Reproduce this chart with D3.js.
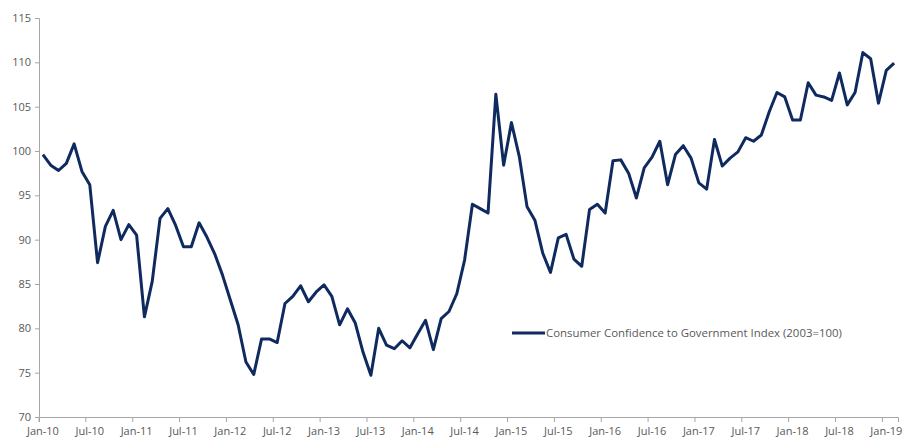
<!DOCTYPE html>
<html>
<head>
<meta charset="utf-8">
<script src="https://cdnjs.cloudflare.com/ajax/libs/d3/7.8.5/d3.min.js"></script>
<style>
  body { margin: 0; background: #fff; }
  text { font-family: "Open Sans", "Noto Sans", sans-serif; }
</style>
</head>
<body>
<div id="chart"></div>
<script>
// monthly series, Jan-10 .. Feb-19
var months = d3.timeMonths(new Date(2010, 0, 1), new Date(2019, 2, 1));
var values = [
  99.6, 98.4, 97.8, 98.6, 100.8, 97.7, 96.2, 87.4, 91.5, 93.3, 90.0, 91.7,
  90.5, 81.3, 85.3, 92.4, 93.5, 91.6, 89.2, 89.2, 91.9, 90.3, 88.4, 86.0,
  83.2, 80.4, 76.2, 74.8, 78.8, 78.8, 78.4, 82.8, 83.6, 84.8, 83.0, 84.1,
  84.9, 83.6, 80.4, 82.2, 80.6, 77.3, 74.7, 80.0, 78.1, 77.7, 78.6, 77.8,
  79.4, 80.9, 77.6, 81.1, 81.9, 83.9, 87.7, 94.0, 93.5, 93.0, 106.4, 98.4,
  103.2, 99.4, 93.7, 92.2, 88.5, 86.3, 90.2, 90.6, 87.8, 87.0, 93.4, 94.0,
  93.0, 98.9, 99.0, 97.5, 94.7, 98.1, 99.3, 101.1, 96.2, 99.6, 100.6, 99.2,
  96.4, 95.7, 101.3, 98.3, 99.2, 99.9, 101.5, 101.1, 101.8, 104.4, 106.6, 106.1,
  103.5, 103.5, 107.7, 106.3, 106.1, 105.7, 108.8, 105.2, 106.6, 111.1, 110.4, 105.4,
  109.1, 109.9
];
var yTicks = [70, 75, 80, 85, 90, 95, 100, 105, 110, 115];
var seriesName = "Consumer Confidence to Government Index (2003=100)";

var svgWidth = 904;
var svgHeight = 441;
var margin = { top: 18, right: 6, bottom: 24, left: 39 };
var width = svgWidth - margin.left - margin.right;
var height = svgHeight - margin.top - margin.bottom;

var svg = d3.select("#chart")
  .append("svg")
  .attr("width", svgWidth)
  .attr("height", svgHeight);

var chartGroup = svg.append("g")
  .attr("transform", `translate(${margin.left}, ${margin.top})`);

// categories sit between tick marks (Excel style)
var xScale = d3.scaleBand()
  .domain(months)
  .range([0, width])
  .paddingInner(0)
  .paddingOuter(0);

var yScale = d3.scaleLinear()
  .domain([70, 115])
  .range([height, 0]);

var fmt = d3.timeFormat("%b-%y");
var tickMonths = months.filter(function(d, i) { return i % 6 === 0; });

var axisColor = "#a6a6a6";
var labelColor = "#595959";
var lineColor = "#0f2a5f";

// x axis: ticks at month boundaries, labels at month centres
var xAxis = chartGroup.append("g")
  .attr("transform", `translate(0, ${height})`)
  .call(d3.axisBottom(xScale)
    .tickValues(tickMonths)
    .tickFormat(fmt)
    .tickSizeOuter(0)
    .tickSize(5)
    .tickPadding(5));
xAxis.selectAll(".tick line")
  .attr("x1", -xScale.bandwidth() / 2)
  .attr("x2", -xScale.bandwidth() / 2);
xAxis.select(".domain").attr("stroke", axisColor);
xAxis.selectAll(".tick line").attr("stroke", axisColor);
xAxis.selectAll("text")
  .attr("fill", labelColor)
  .style("font-size", "11px");

var yAxis = chartGroup.append("g")
  .call(d3.axisLeft(yScale)
    .tickValues(yTicks)
    .tickSizeOuter(0)
    .tickSize(4)
    .tickPadding(4));
yAxis.select(".domain").attr("stroke", axisColor);
yAxis.selectAll(".tick line").attr("stroke", axisColor);
yAxis.selectAll("text")
  .attr("fill", labelColor)
  .style("font-size", "11px");

var line = d3.line()
  .x(function(d, i) { return xScale(months[i]) + xScale.bandwidth() / 2; })
  .y(function(d) { return yScale(d); });

chartGroup.append("path")
  .datum(values)
  .attr("fill", "none")
  .attr("stroke", lineColor)
  .attr("stroke-width", 3)
  .attr("stroke-linejoin", "round")
  .attr("d", line);

// legend
var legend = chartGroup.append("g")
  .attr("transform", `translate(${512 - margin.left}, ${333 - margin.top})`);
legend.append("line")
  .attr("x1", 0).attr("x2", 33)
  .attr("y1", 0).attr("y2", 0)
  .attr("stroke", lineColor)
  .attr("stroke-width", 3);
legend.append("text")
  .attr("x", 34)
  .attr("y", 4)
  .attr("fill", labelColor)
  .style("font-size", "11.4px")
  .text(seriesName);
</script>
</body>
</html>
